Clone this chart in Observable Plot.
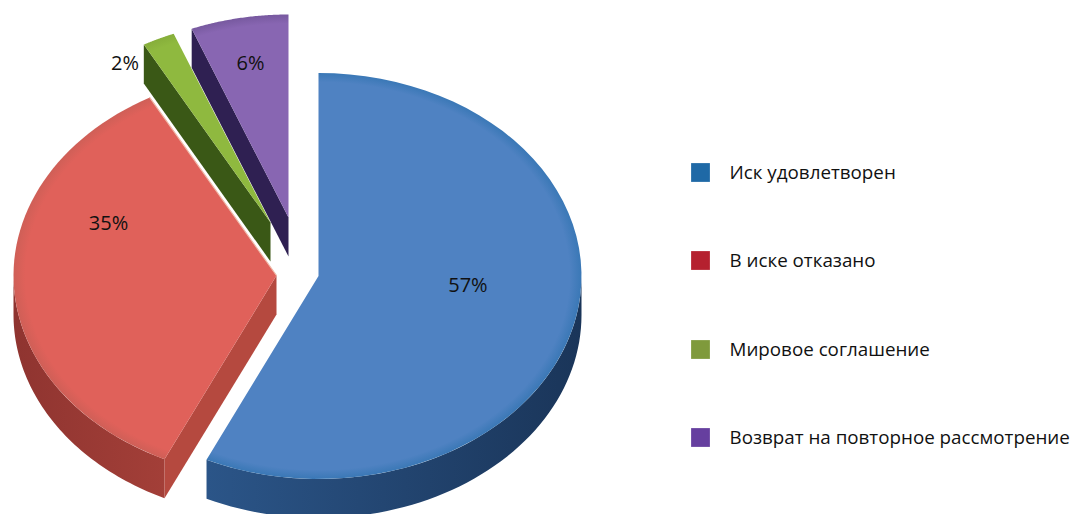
<!DOCTYPE html>
<html lang="ru">
<head>
<meta charset="utf-8">
<title>Результаты рассмотрения исков</title>
<script src="https://cdn.jsdelivr.net/npm/d3@7"></script>
<script src="https://cdn.jsdelivr.net/npm/@observablehq/plot@0.6"></script>
<style>
  html, body { margin: 0; padding: 0; background: #fff; }
  svg { display: block; }
</style>
</head>
<body>
<div id="chart"></div>
<script>
// Outcome categories and their shares, in percent
const categories = ["Иск удовлетворен", "В иске отказано", "Мировое соглашение", "Возврат на повторное рассмотрение"];
const shares = [57, 35, 2, 6];

// Colours of the legend swatches and the faces of each slice
const swatchColors = ["#1f69a6", "#b5212f", "#7f9a3c", "#663f9f"];
const topInner = ["#4f82c2", "#e0615a", "#8fb93f", "#8866b2"];
const topOuter = ["#3a78b6", "#cf5f57", "#86ae3a", "#77599f"];
const rimLeft = ["#2b5588", "#8f3430", "#3a5816", "#2f2052"];
const rimRight = ["#1a3559", "#a33f38", "#3a5816", "#2f2052"];
const cutColors = ["#2b5588", "#b5493f", "#3a5816", "#2f2052"];

// Where each exploded slice has its apex, plus the shape of the tilted pie
const apexX = [318, 276, 270, 288];
const apexY = [275.5, 275, 222, 217];
const radiusX = 263;
const radiusY = 203;
const depth = 39;

// Percent labels: distance from the apex (in radii) and turn from the slice's mid-angle (degrees)
const labelRadius = [0.57, 0.688, 0.96, 0.77];
const labelTurn = [-8, 23.6, -10, 0];

// Legend rows
const legendRows = [172, 260, 349, 437];
const legendSwatchX = 700;
const legendTextX = 729;

const rad = Math.PI / 180;
const ends = d3.cumsum(shares).map((s) => (s * 360) / 100);
const slices = shares.map((share, i) => ({
  i, share,
  t0: i ? ends[i - 1] : 0,
  t1: ends[i],
  ax: apexX[i],
  ay: apexY[i]
}));

const onEdge = (s, t, r = 1) => ({
  x: s.ax + r * radiusX * Math.sin(t * rad),
  y: s.ay - r * radiusY * Math.cos(t * rad)
});

const arc = (s, a, b) => d3.range(0, 61).map((k) => onEdge(s, a + ((b - a) * k) / 60));
const drop = (p) => ({x: p.x, y: p.y + depth});

function sliceMarks(s) {
  const marks = [];
  const apex = {x: s.ax, y: s.ay};
  // The outer wall shows only on the lower half of the ellipse
  const a = Math.max(s.t0, 90);
  const b = Math.min(s.t1, 270);
  if (b > a) {
    const top = arc(s, a, b);
    marks.push(Plot.line([...top, ...top.map(drop).reverse()], {
      x: "x", y: "y", fill: `url(#rim${s.i})`, stroke: "none"
    }));
  }
  // The cut wall shows only when the start edge leans to the left
  if (Math.sin(s.t0 * rad) < 0) {
    const p = onEdge(s, s.t0);
    marks.push(Plot.line([apex, p, drop(p), drop(apex)], {
      x: "x", y: "y", fill: cutColors[s.i], stroke: "none"
    }));
  }
  marks.push(Plot.line([apex, ...arc(s, s.t0, s.t1)], {
    x: "x", y: "y", fill: `url(#top${s.i})`, stroke: "none"
  }));
  return marks;
}

// Gradient definitions referenced by the slice faces; the top faces get a
// thin bevel that follows the ellipse of their own slice
function gradients(index, {x, y}) {
  const NS = "http://www.w3.org/2000/svg";
  const defs = document.createElementNS(NS, "defs");
  const stop = (g, offset, color) => {
    const e = document.createElementNS(NS, "stop");
    e.setAttribute("offset", offset);
    e.setAttribute("stop-color", color);
    g.appendChild(e);
  };
  slices.forEach(({i, ax, ay}) => {
    const r = document.createElementNS(NS, "radialGradient");
    r.setAttribute("id", `top${i}`);
    r.setAttribute("gradientUnits", "userSpaceOnUse");
    r.setAttribute("cx", 0);
    r.setAttribute("cy", 0);
    r.setAttribute("r", 1);
    r.setAttribute("gradientTransform", `translate(${x(ax)},${y(ay)}) scale(${radiusX},${radiusY})`);
    stop(r, "0", topInner[i]);
    stop(r, "0.955", topInner[i]);
    stop(r, "1", topOuter[i]);
    defs.appendChild(r);
    const l = document.createElementNS(NS, "linearGradient");
    l.setAttribute("id", `rim${i}`);
    stop(l, "0", rimLeft[i]);
    stop(l, "1", rimRight[i]);
    defs.appendChild(l);
  });
  return defs;
}

const labels = slices.map((s) => {
  const mid = (s.t0 + s.t1) / 2 + labelTurn[s.i];
  return {...onEdge(s, mid, labelRadius[s.i]), text: `${s.share}%`};
});

const legend = categories.map((name, i) => ({name, y: legendRows[i], color: swatchColors[i]}));
const font = "'Open Sans', 'Noto Sans', sans-serif";

// Back to front: the slices nearest the top of the pie are painted first
const paintOrder = [3, 2, 1, 0];

const chart = Plot.plot({
  width: 1072,
  height: 514,
  margin: 0,
  x: {domain: [0, 1072], range: [0, 1072], axis: null},
  y: {domain: [0, 514], range: [0, 514], axis: null},
  style: {background: "#fff"},
  marks: [
    gradients,
    ...paintOrder.flatMap((i) => sliceMarks(slices[i])),
    // Pale glint along the upper cut of the red slice
    Plot.line([onEdge(slices[1], slices[1].t1), {x: slices[1].ax, y: slices[1].ay}], {
      x: "x", y: "y", stroke: "#efb9a8", strokeWidth: 1.2
    }),
    Plot.text(labels, {
      x: "x", y: "y", text: "text", fill: "#111",
      fontFamily: font, fontSize: 20
    }),
    Plot.dot(legend, {
      x: () => legendSwatchX, y: "y", symbol: "square", r: 10.6,
      fill: "color", stroke: "none"
    }),
    Plot.text(legend, {
      x: () => legendTextX, y: "y", text: "name", textAnchor: "start", fill: "#111",
      fontFamily: font, fontSize: 18.8
    })
  ],
  color: {type: "identity"}
});

document.getElementById("chart").appendChild(chart);
</script>
</body>
</html>
